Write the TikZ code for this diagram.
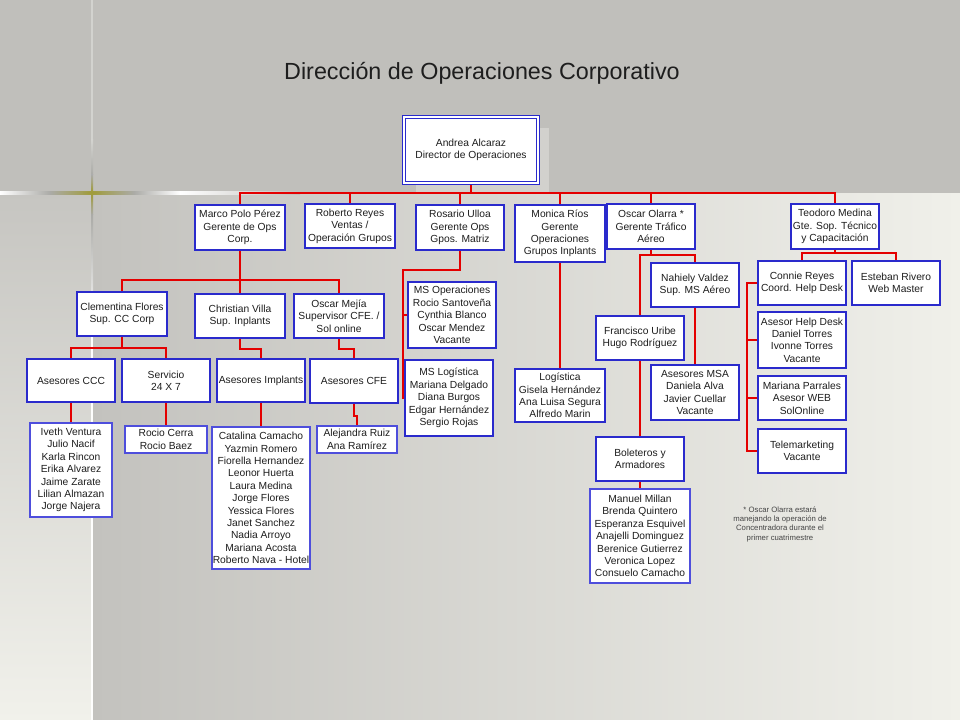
\documentclass[tikz,border=0pt]{standalone}
\usepackage{fontspec}
\setmainfont{Liberation Sans}
\usetikzlibrary{calc}
\definecolor{bgtop}{HTML}{C0BFBB}
\definecolor{stripa}{HTML}{C6C5C1}
\definecolor{stripb}{HTML}{F1F1EB}
\definecolor{bgmid}{HTML}{C3C2BE}
\definecolor{bglight}{HTML}{F0F0EA}
\definecolor{shadowc}{HTML}{D2D1CD}
\definecolor{olivec}{HTML}{A09C3C}
\definecolor{linegray}{HTML}{ABABA7}
\definecolor{vlight}{HTML}{D3D3CF}
\definecolor{boxblue}{HTML}{2A2ACC}
\definecolor{staffblue}{HTML}{4E4EDC}
\definecolor{lred}{HTML}{E40000}
\definecolor{txt}{HTML}{1E1E1E}
\definecolor{notegray}{HTML}{454545}
\pgfdeclarelayer{back}
\pgfdeclarelayer{lines}
\pgfsetlayers{back,lines,main}
\tikzset{
  box/.style={draw=boxblue, line width=1.4pt, fill=white, inner sep=0pt, align=center,
    font=\fontsize{7.7}{9.3}\selectfont, text=txt},
  staff/.style={box, draw=staffblue, line width=1.1pt},
  rl/.style={draw=lred, line width=1.3pt},
}
% \obox[style]{name}{x1}{y1}{x2}{y2}{text}  (pixel coordinates)
\newcommand{\obox}[7][box]{%
  \pgfmathsetmacro\obw{(#5-#3)*0.75}%
  \pgfmathsetmacro\obh{(#6-#4)*0.75}%
  \node[#1, minimum width=\obw pt, minimum height=\obh pt] (#2) at ({(#3+#5)/2},{(#4+#6)/2}) {#7};}
\begin{document}
\begin{tikzpicture}[x=0.75pt,y=-0.75pt]
\useasboundingbox (0,0) rectangle (960,720);
\begin{pgfonlayer}{back}
  \shade[top color=stripa, bottom color=stripb] (0,192) rectangle (92,720);
  \shade[left color=bgmid, right color=bglight] (92,192) rectangle (960,720);
  \fill[bgtop] (0,0) rectangle (960,193);
  % decorative lines
  \shade[left color=white, right color=linegray] (0,192) rectangle (50,194.4);
  \shade[left color=linegray, right color=olivec] (50,192) rectangle (92,194.4);
  \shade[left color=olivec, right color=linegray] (92,192) rectangle (134,194.4);
  \shade[left color=linegray, right color=white] (134,192) rectangle (180,194.4);
  \shade[left color=white, right color=bgtop] (180,192) rectangle (300,194.4);
  \fill[vlight] (91,0) rectangle (93,140);
  \shade[top color=vlight, bottom color=linegray] (91,140) rectangle (93,175);
  \shade[top color=linegray, bottom color=olivec] (91,175) rectangle (93,193);
  \shade[top color=olivec, bottom color=linegray] (91,193) rectangle (93,215);
  \shade[top color=linegray, bottom color=white!92!stripb] (91,215) rectangle (93,330);
  \fill[white!92!stripb] (91,330) rectangle (93,720);
  \fill[olivec, opacity=0.6] (92,184) -- (93,192) -- (101,193) -- (93,194) -- (92,202) -- (91,194) -- (83,193) -- (91,192) -- cycle;
  % director shadow
  \fill[shadowc] (416,128) rectangle (549,192);
\end{pgfonlayer}

\node[font=\fontsize{17.5}{21}\selectfont, text=txt, anchor=base] (title) at (482,80) {Dirección de Operaciones Corporativo};

\obox[box, double=white, double distance=1.1pt, line width=1.1pt]{dir}{404}{117}{538}{183}{Andrea Alcaraz\\Director de Operaciones}

\obox{marco}{195}{205}{285}{250}{Marco Polo Pérez\\Gerente de Ops\\Corp.}
\obox{roberto}{305}{204}{395}{248}{Roberto Reyes\\Ventas /\\Operación Grupos}
\obox{rosario}{416}{205}{504}{250}{Rosario Ulloa\\Gerente Ops\\Gpos. Matriz}
\obox{monica}{515}{205}{605}{262}{Monica Ríos\\Gerente\\Operaciones\\Grupos Inplants}
\obox{oscar}{607}{204}{695}{249}{Oscar Olarra *\\Gerente Tráfico\\Aéreo}
\obox{teodoro}{791}{204}{879}{249}{Teodoro Medina\\Gte. Sop. Técnico\\y Capacitación}

\obox{clem}{77}{292}{167}{336}{Clementina Flores\\Sup. CC Corp}
\obox{christian}{195}{294}{285}{338}{Christian Villa\\Sup. Inplants}
\obox{mejia}{294}{294}{384}{338}{Oscar Mejía\\Supervisor CFE. /\\Sol online}

\obox{ccc}{27}{359}{115}{402}{Asesores CCC}
\obox{serv}{122}{359}{210}{402}{Servicio\\24 X 7}
\obox{impl}{217}{359}{305}{402}{Asesores Implants}
\obox{cfe}{310}{359}{398}{403}{Asesores CFE}

\obox[staff]{iveth}{30}{423}{112}{517}{Iveth Ventura\\Julio Nacif\\Karla Rincon\\Erika Alvarez\\Jaime Zarate\\Lilian Almazan\\Jorge Najera}
\obox[staff]{rocio}{125}{426}{207}{453}{Rocio Cerra\\Rocio Baez}
\obox[staff]{catalina}{212}{427}{310}{569}{Catalina Camacho\\Yazmin Romero\\Fiorella Hernandez\\Leonor Huerta\\Laura Medina\\Jorge Flores\\Yessica Flores\\Janet Sanchez\\Nadia Arroyo\\Mariana Acosta\\Roberto Nava - Hotel}
\obox[staff]{alejandra}{317}{426}{397}{453}{Alejandra Ruiz\\Ana Ramírez}

\obox{msops}{408}{282}{496}{348}{MS Operaciones\\Rocio Santoveña\\Cynthia Blanco\\Oscar Mendez\\Vacante}
\obox{mslog}{405}{360}{493}{436}{MS Logística\\Mariana Delgado\\Diana Burgos\\Edgar Hernández\\Sergio Rojas}

\obox{logist}{515}{369}{605}{422}{Logística\\Gisela Hernández\\Ana Luisa Segura\\Alfredo Marin}

\obox{nahiely}{651}{263}{739}{307}{Nahiely Valdez\\Sup. MS Aéreo}
\obox{francisco}{596}{316}{684}{360}{Francisco Uribe\\Hugo Rodríguez}
\obox{msa}{651}{365}{739}{420}{Asesores MSA\\Daniela Alva\\Javier Cuellar\\Vacante}
\obox{boleteros}{596}{437}{684}{481}{Boleteros y\\Armadores}
\obox[staff]{manuel}{590}{489}{690}{583}{Manuel Millan\\Brenda Quintero\\Esperanza Esquivel\\Anajelli Dominguez\\Berenice Gutierrez\\Veronica Lopez\\Consuelo Camacho}

\obox{connie}{758}{261}{846}{305}{Connie Reyes\\Coord. Help Desk}
\obox{esteban}{852}{261}{940}{305}{Esteban Rivero\\Web Master}
\obox{ahd}{758}{312}{846}{368}{Asesor Help Desk\\Daniel Torres\\Ivonne Torres\\Vacante}
\obox{mariana}{758}{376}{846}{420}{Mariana Parrales\\Asesor WEB\\SolOnline}
\obox{tele}{758}{429}{846}{473}{Telemarketing\\Vacante}

\node[font=\fontsize{5.8}{7}\selectfont, text=notegray, align=center] (note) at (780,524) {* Oscar Olarra estará\\manejando la operación de\\Concentradora durante el\\primer cuatrimestre};

\begin{pgfonlayer}{lines}
  \coordinate (busA) at (471,193);
  \draw[rl] (dir.south) -- (dir.south |- busA);
  \draw[rl] (marco.north) |- (busA) -| (teodoro.north);
  \foreach \n in {roberto,rosario,monica,oscar} \draw[rl] (\n.north) -- (\n.north |- busA);

  \coordinate (busB) at (240,280);
  \draw[rl] (marco.south) -- (christian.north);
  \draw[rl] (clem.north) |- (busB) -| (mejia.north);
  \coordinate (busC) at (120,348);
  \draw[rl] (clem.south) -- (clem.south |- busC);
  \draw[rl] (ccc.north) |- (busC) -| (serv.north);
  \draw[rl] (christian.south) -- ++(0,10) -| (impl.north);
  \draw[rl] (mejia.south) -- ++(0,10) -| (cfe.north);
  \draw[rl] (ccc.south) -- (iveth.north);
  \draw[rl] (serv.south) -- (rocio.north);
  \draw[rl] (impl.south) -- (catalina.north);
  \draw[rl] (cfe.south) -- ++(0,12) -| (alejandra.north);

  \coordinate (rv) at (403,270);
  \draw[rl] (rosario.south) |- (rv) |- (mslog.west);
  \draw[rl] (msops.west) -- (msops.west -| rv);

  \draw[rl] (monica.south) -- (logist.north);

  \coordinate (ob) at (651,255);
  \draw[rl] (oscar.south) -- (ob);
  \draw[rl] (francisco.north) |- (ob) -| (nahiely.north);
  \draw[rl] (francisco.south) -- (boleteros.north);
  \draw[rl] (boleteros.south) -- (manuel.north);
  \draw[rl] (nahiely.south) -- (msa.north);

  \coordinate (tb) at (835,253);
  \draw[rl] (teodoro.south) -- (tb);
  \draw[rl] (connie.north) |- (tb) -| (esteban.north);
  \coordinate (cb) at (747,283);
  \draw[rl] (connie.west) -- (connie.west -| cb) |- (tele.west);
  \draw[rl] (ahd.west) -- (ahd.west -| cb);
  \draw[rl] (mariana.west) -- (mariana.west -| cb);
\end{pgfonlayer}
\end{tikzpicture}
\end{document}
